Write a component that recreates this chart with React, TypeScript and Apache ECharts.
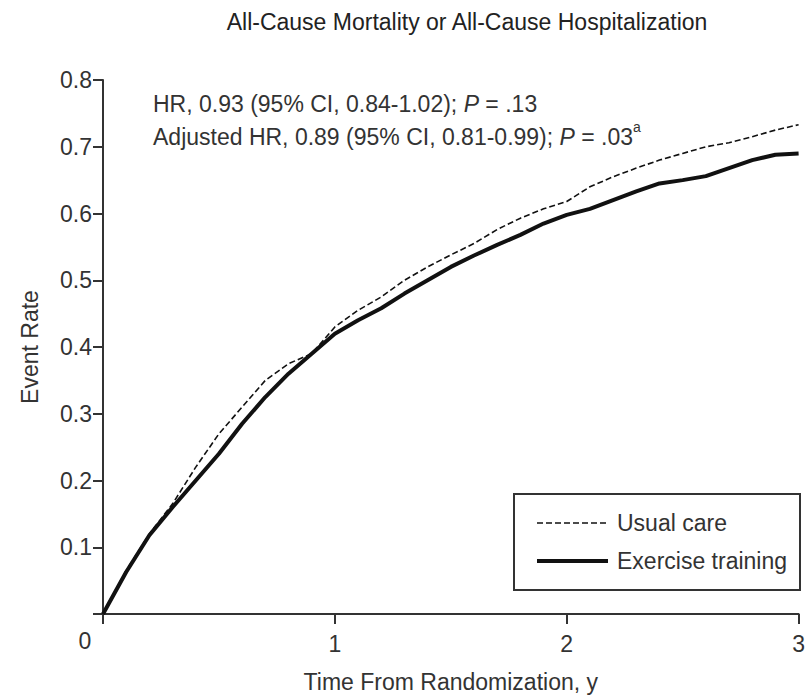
import React, { useEffect, useRef } from "react";
import * as echarts from "echarts";

const times = [0, 0.1, 0.2, 0.3, 0.4, 0.5, 0.6, 0.7, 0.8, 0.9, 1.0, 1.1, 1.2, 1.3, 1.4, 1.5, 1.6, 1.7, 1.8, 1.9, 2.0, 2.1, 2.2, 2.3, 2.4, 2.5, 2.6, 2.7, 2.8, 2.9, 3.0];
const usualCare = [0, 0.065, 0.12, 0.165, 0.22, 0.27, 0.31, 0.35, 0.375, 0.39, 0.43, 0.455, 0.475, 0.5, 0.52, 0.538, 0.555, 0.576, 0.593, 0.607, 0.618, 0.64, 0.655, 0.668, 0.68, 0.69, 0.7, 0.706, 0.715, 0.725, 0.733];
const exerciseTraining = [0, 0.063, 0.118, 0.16, 0.2, 0.24, 0.285, 0.325, 0.36, 0.39, 0.42, 0.44, 0.458, 0.48, 0.5, 0.52, 0.537, 0.553, 0.568, 0.585, 0.598, 0.607, 0.62, 0.633, 0.645, 0.65, 0.656, 0.668, 0.68, 0.688, 0.69];
const yTicks = [0, 0.1, 0.2, 0.3, 0.4, 0.5, 0.6, 0.7, 0.8];
const xTicks = [0, 1, 2, 3];
const seriesNames = ["Usual care", "Exercise training"];

const FONT = "Liberation Sans";
const TXT = "#333";
const FS = 23;

export default function App() {
  const ref = useRef<HTMLDivElement>(null);
  useEffect(() => {
    if (!ref.current) return;
    const chart = echarts.init(ref.current, undefined, { renderer: "svg" });
    const pair = (arr: number[]) => times.map((t, i) => [t, arr[i]]);
    chart.setOption({
      animation: false,
      textStyle: { fontFamily: FONT },
      grid: { left: 103, right: 7, top: 80, bottom: 84, containLabel: false },
      xAxis: {
        type: "value",
        min: xTicks[0],
        max: xTicks[xTicks.length - 1],
        interval: 1,
        name: "Time From Randomization, y",
        nameLocation: "middle",
        nameGap: 56,
        nameTextStyle: { fontSize: FS, color: TXT, fontFamily: FONT },
        axisLine: { lineStyle: { color: "#333", width: 2 } },
        axisTick: { show: true, length: 10, lineStyle: { color: "#333", width: 2 } },
        axisLabel: {
          margin: 18,
          fontSize: FS,
          color: TXT,
          fontFamily: FONT,
          formatter: (v: number) => (v === 0 ? "" : String(v)),
        },
        splitLine: { show: false },
      },
      yAxis: {
        type: "value",
        min: yTicks[0],
        max: yTicks[yTicks.length - 1],
        interval: 0.1,
        name: "Event Rate",
        nameLocation: "middle",
        nameGap: 62,
        nameTextStyle: { fontSize: FS, color: TXT, fontFamily: FONT },
        axisLine: { show: true, lineStyle: { color: "#333", width: 2 } },
        axisTick: { show: true, length: 10, lineStyle: { color: "#333", width: 2 } },
        axisLabel: {
          margin: 11,
          fontSize: FS,
          color: TXT,
          fontFamily: FONT,
          formatter: (v: number) => (v === 0 ? "" : v.toFixed(1)),
        },
        splitLine: { show: false },
      },
      series: [
        {
          name: seriesNames[0],
          type: "line",
          data: pair(usualCare),
          symbol: "none",
          lineStyle: { color: "#111", width: 1.6, type: [6, 3] },
          itemStyle: { color: "#111" },
        },
        {
          name: seriesNames[1],
          type: "line",
          data: pair(exerciseTraining),
          symbol: "none",
          lineStyle: { color: "#111", width: 4 },
          itemStyle: { color: "#111" },
        },
      ],
      graphic: [
        {
          type: "text",
          x: 467,
          y: 22,
          style: {
            text: "All-Cause Mortality or All-Cause Hospitalization",
            fontSize: FS,
            fontFamily: FONT,
            fill: "#222",
            align: "center",
            verticalAlign: "middle",
          },
        },
        {
          type: "text",
          x: 85,
          y: 641,
          style: {
            text: "0",
            fontSize: FS,
            fontFamily: FONT,
            fill: TXT,
            align: "center",
            verticalAlign: "middle",
          },
        },
        {
          type: "text",
          x: 153,
          y: 87,
          style: {
            text: "{n|HR, 0.93 (95% CI, 0.84-1.02); }{i|P}{n| = .13}\n{n|Adjusted HR, 0.89 (95% CI, 0.81-0.99); }{i|P}{n| = .03}{s|a}",
            fontFamily: FONT,
            fill: TXT,
            rich: {
              n: { fontSize: FS, fontFamily: FONT, fill: TXT, lineHeight: 33 },
              i: { fontSize: FS, fontFamily: FONT, fill: TXT, fontStyle: "italic", lineHeight: 33 },
              s: { fontSize: 14, fontFamily: FONT, fill: TXT, verticalAlign: "top", lineHeight: 33 },
            },
          },
        },
        {
          type: "rect",
          shape: { x: 514, y: 494, width: 286, height: 96 },
          style: { fill: "#fff", stroke: "#333", lineWidth: 2 },
          z: 10,
        },
        {
          type: "line",
          shape: { x1: 537, y1: 523, x2: 608, y2: 523 },
          style: { stroke: "#111", lineWidth: 1.6, lineDash: [6, 3] },
          z: 11,
        },
        {
          type: "line",
          shape: { x1: 537, y1: 561, x2: 608, y2: 561 },
          style: { stroke: "#111", lineWidth: 4 },
          z: 11,
        },
        {
          type: "text",
          x: 617,
          y: 523,
          z: 11,
          style: { text: seriesNames[0], fontSize: FS, fontFamily: FONT, fill: TXT, verticalAlign: "middle" },
        },
        {
          type: "text",
          x: 617,
          y: 561,
          z: 11,
          style: { text: seriesNames[1], fontSize: FS, fontFamily: FONT, fill: TXT, verticalAlign: "middle" },
        },
      ],
    });
    return () => chart.dispose();
  }, []);
  return <div ref={ref} style={{ position: "absolute", left: 0, top: 0, width: 808, height: 698 }} />;
}
